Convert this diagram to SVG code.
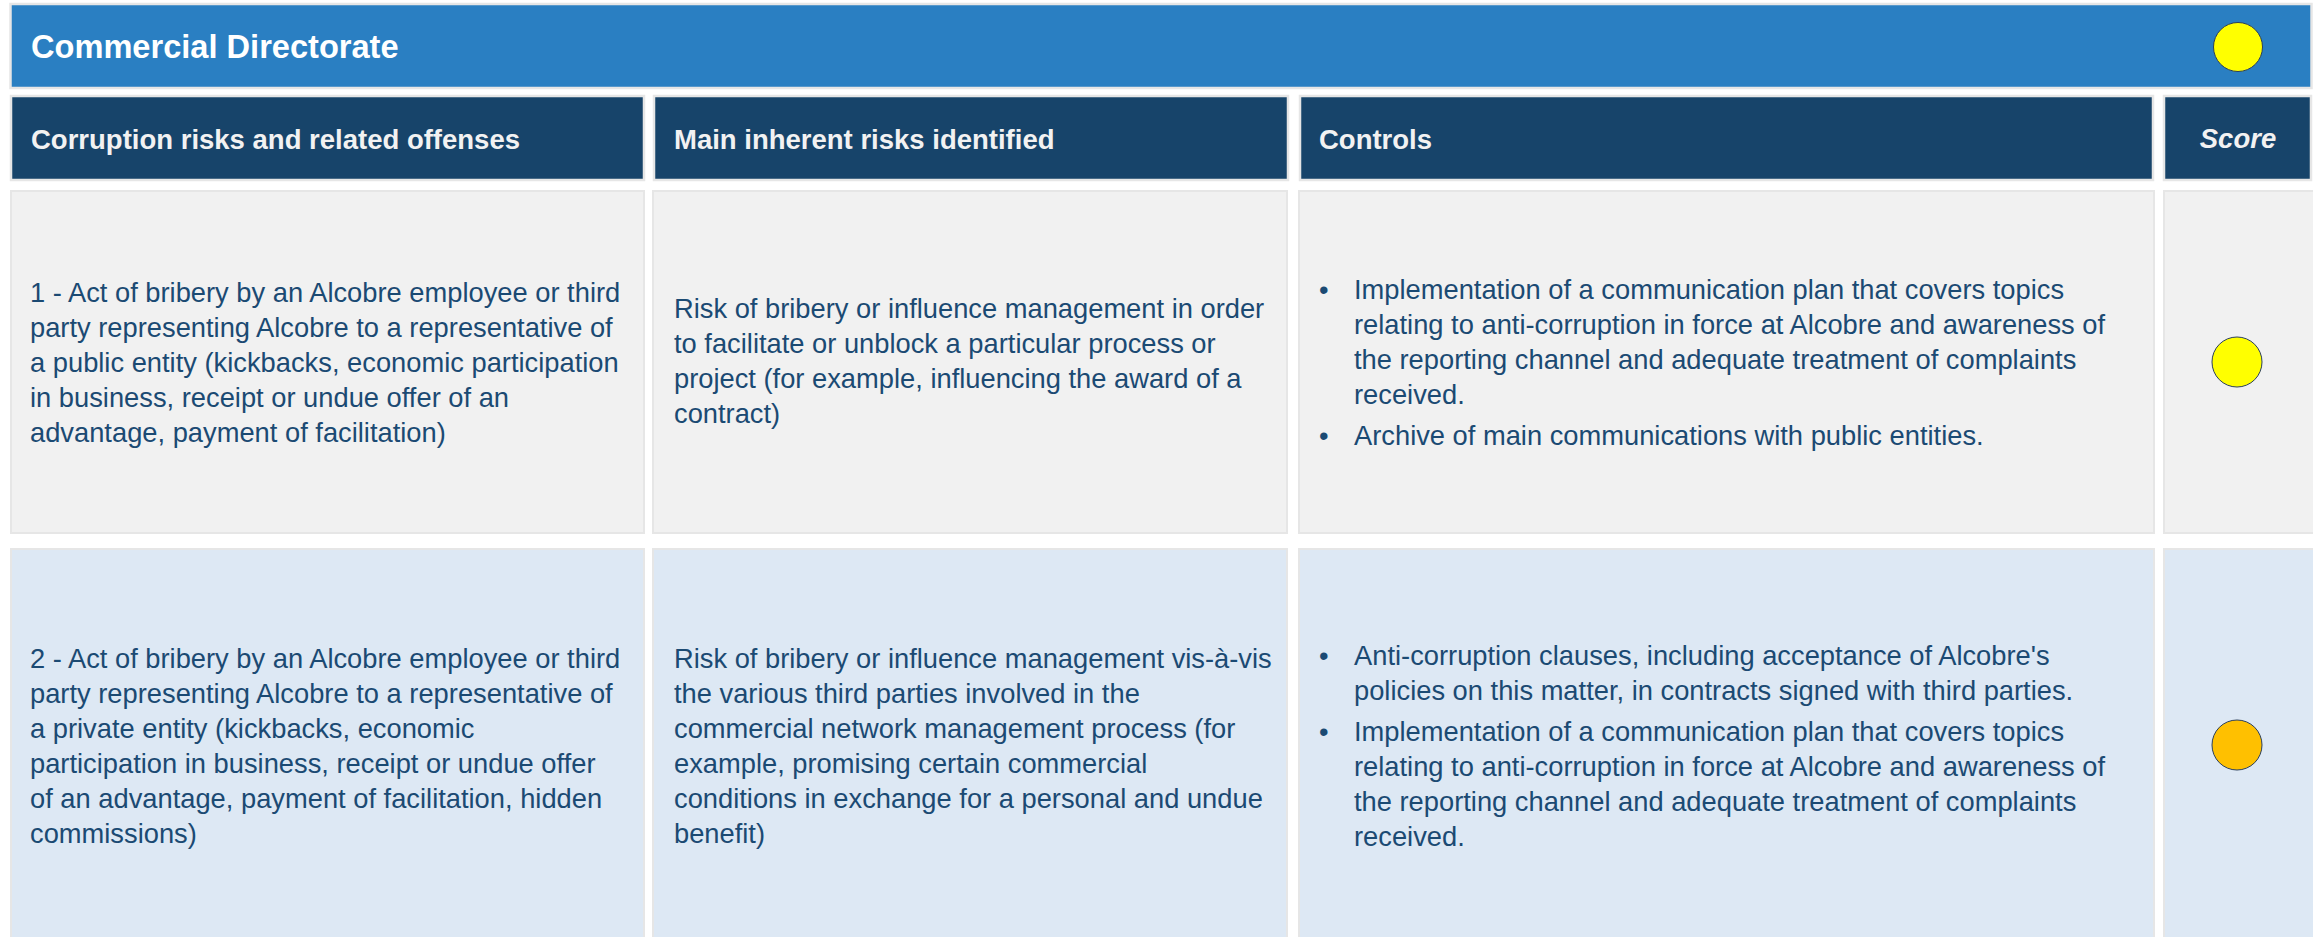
<svg xmlns="http://www.w3.org/2000/svg" width="2313" height="937" viewBox="0 0 2313 937">
<style>
.bar{fill:#2a7fc2;stroke:#e6e6e6;stroke-width:2.5}
.hd{fill:#17446a;stroke:#e6e6e6;stroke-width:2.5}
.r1{fill:#f1f1f1;stroke:#e6e6e6;stroke-width:2}
.r2{fill:#dde8f4;stroke:#e6e6e6;stroke-width:2}
.title{font-family:"Liberation Sans",Arial,sans-serif;font-weight:bold;font-size:32.6px;fill:#ffffff}
.ht{font-family:"Liberation Sans",Arial,sans-serif;font-weight:bold;font-size:27.5px;fill:#f2f2f2}
.bt{font-family:"Liberation Sans",Arial,sans-serif;font-size:27.3px;fill:#1b4a73}
.dot{stroke:#2b3f5a;stroke-width:1}
</style>
<rect width="2313" height="937" fill="#ffffff"/>
<g id="title-bar">
<rect class="bar" x="10.5" y="4" width="2301" height="84"/>
<text class="title" x="31" y="58">Commercial Directorate</text>
<ellipse class="dot" cx="2238" cy="47" rx="24.5" ry="24.5" fill="#ffff00"/>
</g>
<g id="header-risks">
<rect class="hd" x="11" y="96" width="633" height="84"/>
<text class="ht" x="31" y="149">Corruption risks and related offenses</text>
</g>
<g id="header-inherent">
<rect class="hd" x="654" y="96" width="634" height="84"/>
<text class="ht" x="674" y="149">Main inherent risks identified</text>
</g>
<g id="header-controls">
<rect class="hd" x="1300" y="96" width="853" height="84"/>
<text class="ht" x="1319" y="149">Controls</text>
</g>
<g id="header-score">
<rect class="hd" x="2164" y="96" width="147" height="84"/>
<text class="ht" x="2238" y="148" text-anchor="middle" font-style="italic">Score</text>
</g>
<g id="row1-risk">
<rect class="r1" x="11" y="191" width="633" height="342"/>
<text class="bt"><tspan x="30" y="302">1 - Act of bribery by an Alcobre employee or third</tspan><tspan x="30" y="337">party representing Alcobre to a representative of</tspan><tspan x="30" y="372">a public entity (kickbacks, economic participation</tspan><tspan x="30" y="407">in business, receipt or undue offer of an</tspan><tspan x="30" y="442">advantage, payment of facilitation)</tspan></text>
</g>
<g id="row1-inherent">
<rect class="r1" x="653" y="191" width="634" height="342"/>
<text class="bt"><tspan x="674" y="318">Risk of bribery or influence management in order</tspan><tspan x="674" y="353">to facilitate or unblock a particular process or</tspan><tspan x="674" y="388">project (for example, influencing the award of a</tspan><tspan x="674" y="423">contract)</tspan></text>
</g>
<g id="row1-controls">
<rect class="r1" x="1299" y="191" width="855" height="342"/>
<text class="bt"><tspan x="1319" y="299">•</tspan><tspan x="1319" y="445">•</tspan></text>
<text class="bt"><tspan x="1354" y="299">Implementation of a communication plan that covers topics</tspan><tspan x="1354" y="334">relating to anti-corruption in force at Alcobre and awareness of</tspan><tspan x="1354" y="369">the reporting channel and adequate treatment of complaints</tspan><tspan x="1354" y="404">received.</tspan><tspan x="1354" y="445">Archive of main communications with public entities.</tspan></text>
</g>
<g id="row1-score">
<rect class="r1" x="2164" y="191" width="160" height="342"/>
<ellipse class="dot" cx="2237" cy="362" rx="25" ry="25" fill="#ffff00"/>
</g>
<g id="row2-risk">
<rect class="r2" x="11" y="549" width="633" height="400"/>
<text class="bt"><tspan x="30" y="668">2 - Act of bribery by an Alcobre employee or third</tspan><tspan x="30" y="703">party representing Alcobre to a representative of</tspan><tspan x="30" y="738">a private entity (kickbacks, economic</tspan><tspan x="30" y="773">participation in business, receipt or undue offer</tspan><tspan x="30" y="808">of an advantage, payment of facilitation, hidden</tspan><tspan x="30" y="843">commissions)</tspan></text>
</g>
<g id="row2-inherent">
<rect class="r2" x="653" y="549" width="634" height="400"/>
<text class="bt"><tspan x="674" y="668">Risk of bribery or influence management vis-à-vis</tspan><tspan x="674" y="703">the various third parties involved in the</tspan><tspan x="674" y="738">commercial network management process (for</tspan><tspan x="674" y="773">example, promising certain commercial</tspan><tspan x="674" y="808">conditions in exchange for a personal and undue</tspan><tspan x="674" y="843">benefit)</tspan></text>
</g>
<g id="row2-controls">
<rect class="r2" x="1299" y="549" width="855" height="400"/>
<text class="bt"><tspan x="1319" y="665">•</tspan><tspan x="1319" y="741">•</tspan></text>
<text class="bt"><tspan x="1354" y="665">Anti-corruption clauses, including acceptance of Alcobre's</tspan><tspan x="1354" y="700">policies on this matter, in contracts signed with third parties.</tspan><tspan x="1354" y="741">Implementation of a communication plan that covers topics</tspan><tspan x="1354" y="776">relating to anti-corruption in force at Alcobre and awareness of</tspan><tspan x="1354" y="811">the reporting channel and adequate treatment of complaints</tspan><tspan x="1354" y="846">received.</tspan></text>
</g>
<g id="row2-score">
<rect class="r2" x="2164" y="549" width="160" height="400"/>
<ellipse class="dot" cx="2237" cy="745" rx="25" ry="25" fill="#ffc000"/>
</g>
<g id="connectors"/>
</svg>
